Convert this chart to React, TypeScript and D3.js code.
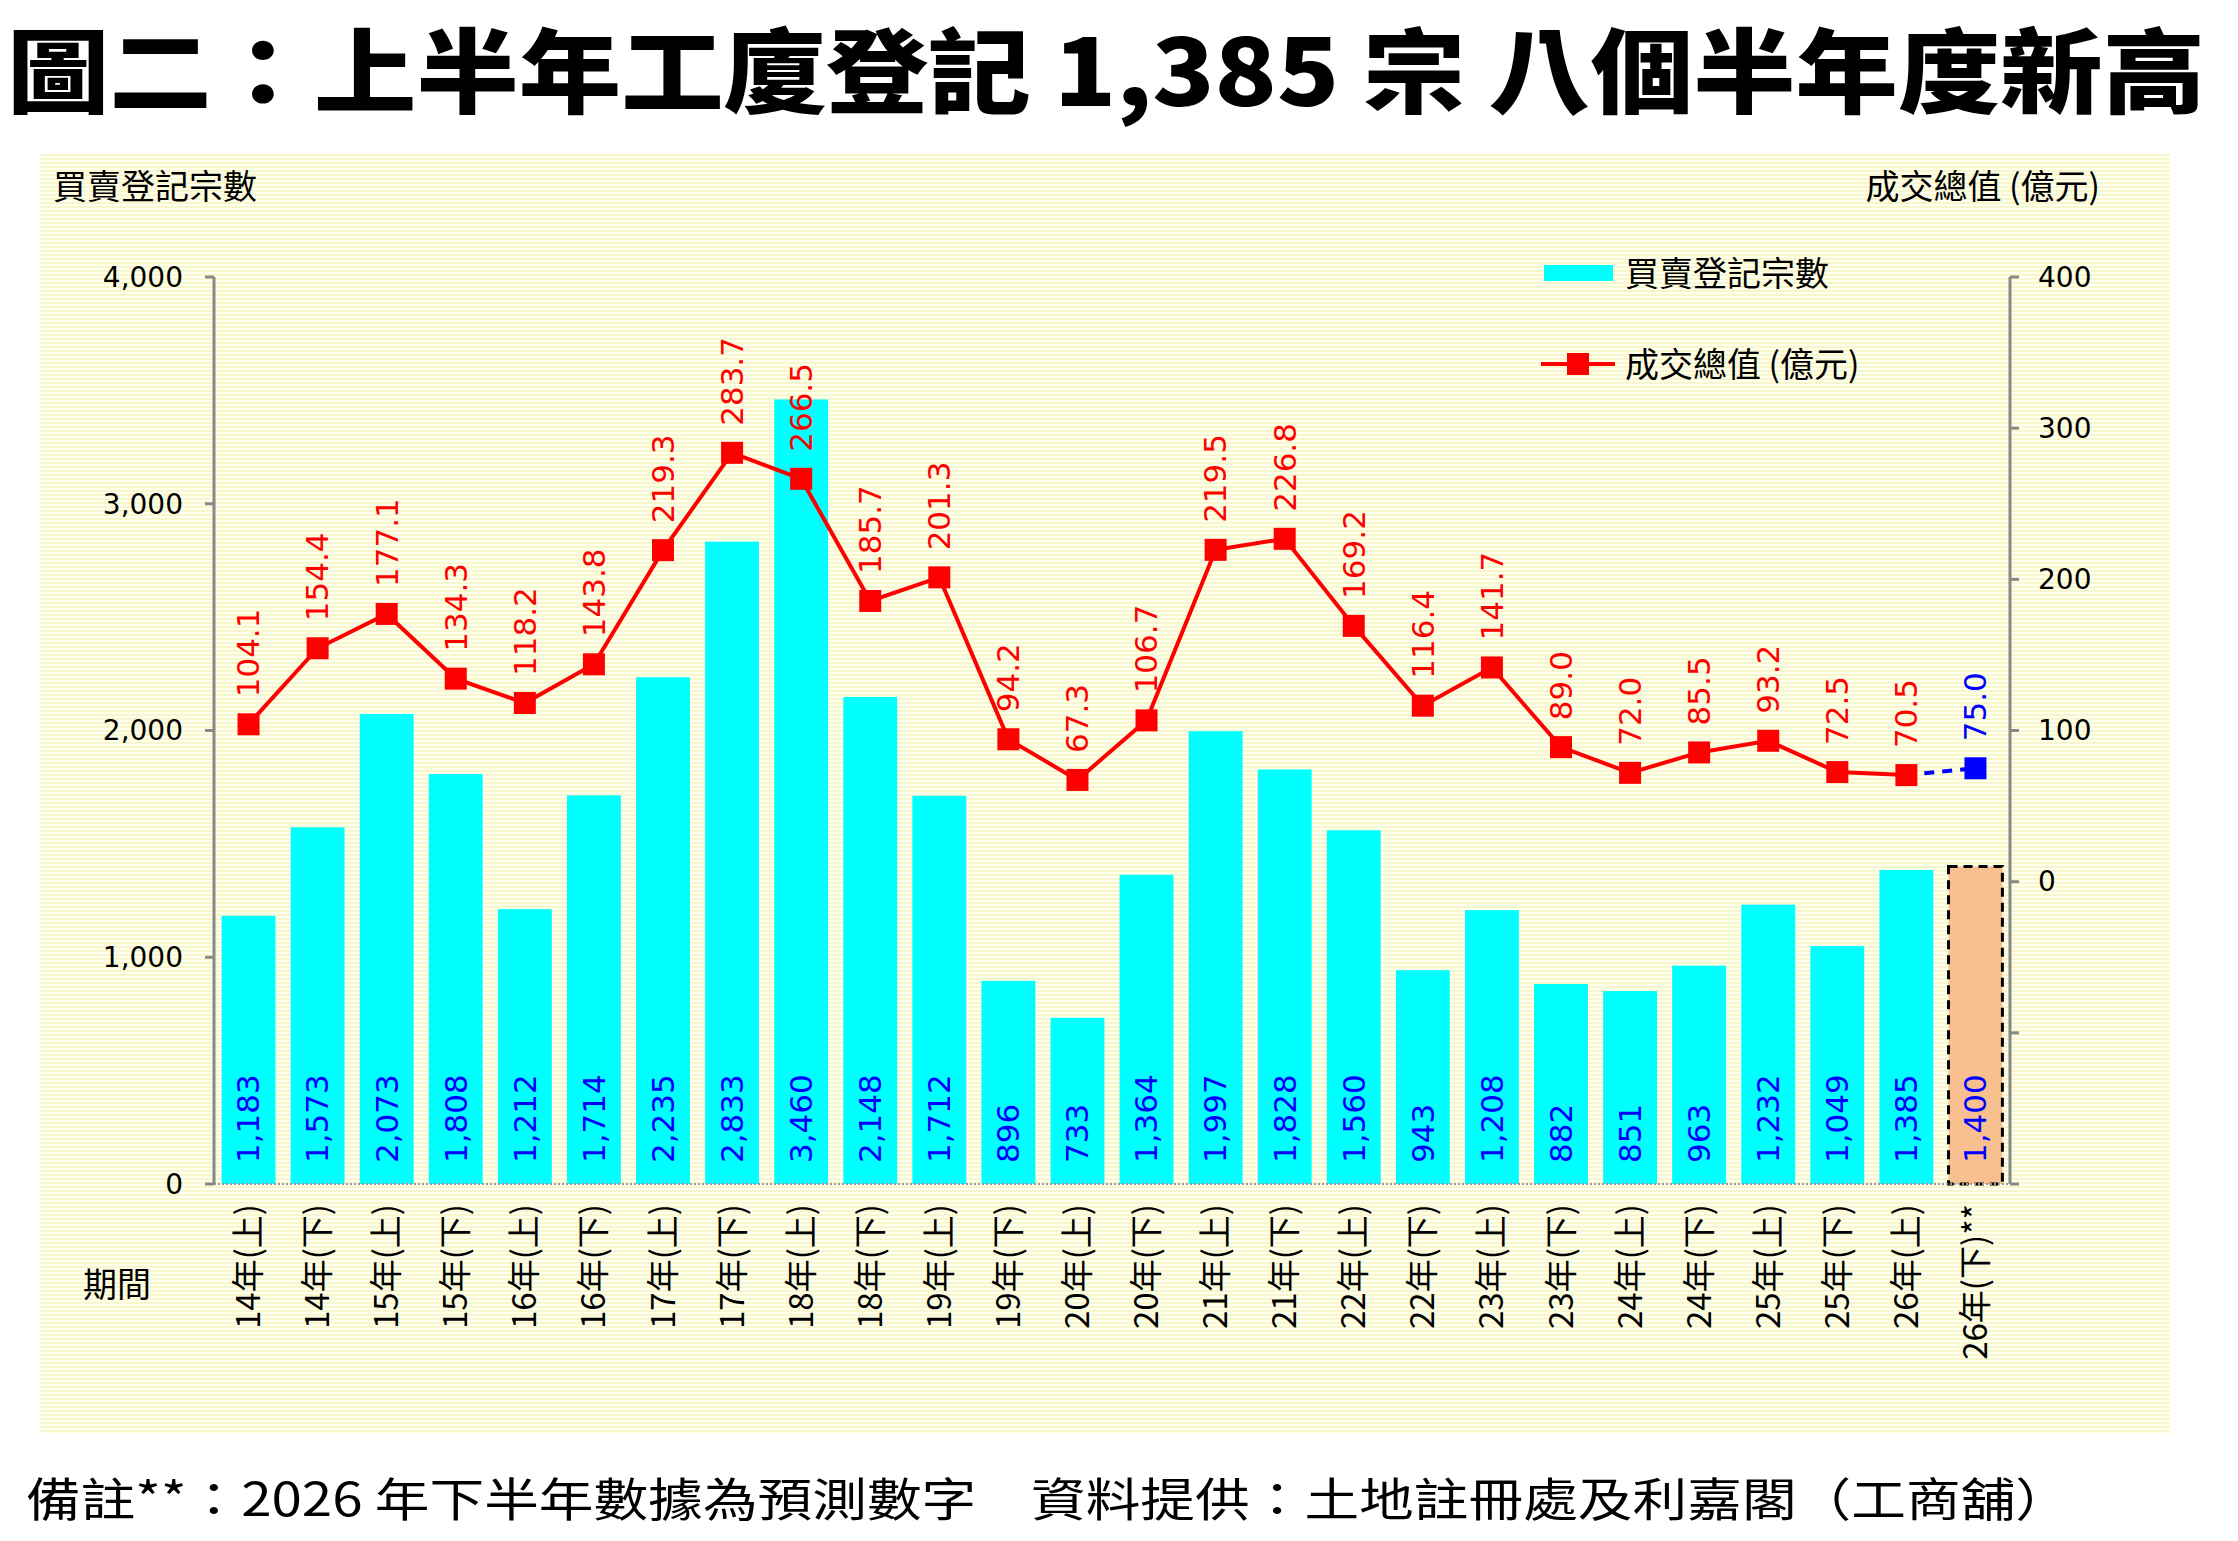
import * as d3 from 'd3';

const WIDTH = 2238;
const HEIGHT = 1541;

const periods = [
  '14年(上)', '14年(下)', '15年(上)', '15年(下)', '16年(上)', '16年(下)',
  '17年(上)', '17年(下)', '18年(上)', '18年(下)', '19年(上)', '19年(下)',
  '20年(上)', '20年(下)', '21年(上)', '21年(下)', '22年(上)', '22年(下)',
  '23年(上)', '23年(下)', '24年(上)', '24年(下)', '25年(上)', '25年(下)',
  '26年(上)', '26年(下)**',
];
const deals = [
  1183, 1573, 2073, 1808, 1212, 1714, 2235, 2833, 3460, 2148, 1712, 896, 733,
  1364, 1997, 1828, 1560, 943, 1208, 882, 851, 963, 1232, 1049, 1385, 1400,
];
const totals = [
  104.1, 154.4, 177.1, 134.3, 118.2, 143.8, 219.3, 283.7, 266.5, 185.7, 201.3,
  94.2, 67.3, 106.7, 219.5, 226.8, 169.2, 116.4, 141.7, 89.0, 72.0, 85.5, 93.2,
  72.5, 70.5, 75.0,
];
// last period is a forecast
const forecastIndex = periods.length - 1;
const leftTicks = [0, 1000, 2000, 3000, 4000];
const rightTicks = [-200, -100, 0, 100, 200, 300, 400];

const TITLE = '圖二：上半年工廈登記 1,385 宗  八個半年度新高';
const FOOTER =
  '備註**：2026 年下半年數據為預測數字　資料提供：土地註冊處及利嘉閣（工商舖）';

const CJK = '"Noto Sans CJK TC", "Noto Sans CJK SC", sans-serif';
const NUM = '"DejaVu Sans", "Liberation Sans", sans-serif';

const plot = { left: 214, right: 2010, top: 277, bottom: 1184 };

export default function App() {
  const x = d3
    .scaleBand<string>()
    .domain(periods)
    .range([plot.left, plot.right])
    .paddingInner(0.22)
    .paddingOuter(0.11);
  const yLeft = d3.scaleLinear().domain([0, 4000]).range([plot.bottom, plot.top]);
  const yRight = d3.scaleLinear().domain([-200, 400]).range([plot.bottom, plot.top]);
  const fmt = d3.format(',d');
  const cx = (i: number) => (x(periods[i]) ?? 0) + x.bandwidth() / 2;

  const line = d3
    .line<number>()
    .x((_, i) => cx(i))
    .y((d) => yRight(d));
  const actual = totals.slice(0, forecastIndex);
  const forecastSeg = `M${cx(forecastIndex - 1)},${yRight(totals[forecastIndex - 1])}L${cx(forecastIndex)},${yRight(totals[forecastIndex])}`;

  const MK = 22;

  return (
    <svg
      width={WIDTH}
      height={HEIGHT}
      style={{ position: 'absolute', left: 0, top: 0, background: '#fff' }}
    >
      <defs>
        <pattern id="stripes" width="8" height="4" patternUnits="userSpaceOnUse">
          <rect width="8" height="4" fill="#FFFFEC" />
          <rect y="2" width="8" height="2" fill="#F7F7CF" />
        </pattern>
      </defs>

      <text
        x={7}
        y={106}
        fontFamily={CJK}
        fontWeight={900}
        fontSize={92}
        textLength={2198}
        lengthAdjust="spacingAndGlyphs"
        fill="#000"
      >
        {TITLE}
      </text>

      <rect x={40} y={154} width={2130} height={1280} fill="url(#stripes)" />

      <text x={53} y={199} fontFamily={CJK} fontSize={34} fill="#000">
        買賣登記宗數
      </text>
      <text x={2100} y={199} fontFamily={CJK} fontSize={34} textAnchor="end" fill="#000">
        成交總值 (億元)
      </text>

      {/* bars */}
      {deals.map((d, i) => {
        const isF = i === forecastIndex;
        return (
          <rect
            key={periods[i]}
            x={x(periods[i])}
            y={yLeft(d)}
            width={x.bandwidth()}
            height={plot.bottom - yLeft(d)}
            fill={isF ? '#F8C08F' : '#00FFFF'}
            stroke={isF ? '#000' : 'none'}
            strokeWidth={3}
            strokeDasharray={isF ? '9 6' : undefined}
          />
        );
      })}

      {/* baseline */}
      <line
        x1={plot.left}
        x2={plot.right}
        y1={plot.bottom}
        y2={plot.bottom}
        stroke="#999"
        strokeWidth={2}
        strokeDasharray="2 2"
      />

      {/* left axis */}
      <line x1={plot.left} x2={plot.left} y1={plot.top} y2={plot.bottom} stroke="#888" strokeWidth={3} />
      {leftTicks.map((t) => (
        <g key={t}>
          <line x1={plot.left - 9} x2={plot.left} y1={yLeft(t)} y2={yLeft(t)} stroke="#888" strokeWidth={3} />
          <text
            x={183}
            y={yLeft(t)}
            dy="0.35em"
            textAnchor="end"
            fontFamily={NUM}
            fontSize={28}
            fill="#000"
          >
            {fmt(t)}
          </text>
        </g>
      ))}

      {/* right axis */}
      <line x1={plot.right} x2={plot.right} y1={plot.top} y2={plot.bottom} stroke="#888" strokeWidth={3} />
      {rightTicks.map((t) => (
        <g key={t}>
          <line x1={plot.right} x2={plot.right + 9} y1={yRight(t)} y2={yRight(t)} stroke="#888" strokeWidth={3} />
          {t >= 0 ? (
            <text
              x={2038}
              y={yRight(t)}
              dy="0.35em"
              fontFamily={NUM}
              fontSize={28}
              fill="#000"
            >
              {t}
            </text>
          ) : null}
        </g>
      ))}

      {/* bar value labels */}
      {deals.map((d, i) => (
        <text
          key={`bl-${periods[i]}`}
          transform={`translate(${cx(i)},${plot.bottom - 21}) rotate(-90)`}
          dy="0.35em"
          fontFamily={NUM}
          fontSize={31}
          fill="#0000FF"
        >
          {fmt(d)}
        </text>
      ))}

      {/* line */}
      <path d={line(actual) ?? ''} fill="none" stroke="#FF0000" strokeWidth={4} />
      <path d={forecastSeg} fill="none" stroke="#0000FF" strokeWidth={4} strokeDasharray="10 8" />
      {totals.map((v, i) => {
        const isF = i === forecastIndex;
        return (
          <g key={`pt-${periods[i]}`}>
            <rect
              x={cx(i) - MK / 2}
              y={yRight(v) - MK / 2}
              width={MK}
              height={MK}
              fill={isF ? '#0000FF' : '#FF0000'}
            />
            <text
              transform={`translate(${cx(i)},${yRight(v) - 27}) rotate(-90)`}
              dy="0.35em"
              fontFamily={NUM}
              fontSize={31}
              fill={isF ? '#0000FF' : '#FF0000'}
            >
              {v.toFixed(1)}
            </text>
          </g>
        );
      })}

      {/* x labels */}
      {periods.map((p, i) => (
        <text
          key={`xl-${p}`}
          transform={`translate(${cx(i)},${plot.bottom + 20}) rotate(-90)`}
          dy="0.35em"
          textAnchor="end"
          fontFamily={CJK}
          fontSize={33}
          fill="#000"
        >
          {p}
        </text>
      ))}
      <text x={83} y={1297} fontFamily={CJK} fontSize={34} fill="#000">
        期間
      </text>

      {/* legend */}
      <rect x={1544} y={265} width={69} height={16} fill="#00FFFF" />
      <text x={1625} y={274} dy="0.35em" fontFamily={CJK} fontSize={34} fill="#000">
        買賣登記宗數
      </text>
      <line x1={1541} x2={1615} y1={364} y2={364} stroke="#FF0000" strokeWidth={4} />
      <rect x={1578 - MK / 2} y={364 - MK / 2} width={MK} height={MK} fill="#FF0000" />
      <text x={1625} y={365} dy="0.35em" fontFamily={CJK} fontSize={34} fill="#000">
        成交總值 (億元)
      </text>

      <text
        x={26}
        y={1516}
        fontFamily={CJK}
        fontSize={46}
        textLength={2044}
        lengthAdjust="spacingAndGlyphs"
        fill="#000"
      >
        {FOOTER}
      </text>
    </svg>
  );
}
